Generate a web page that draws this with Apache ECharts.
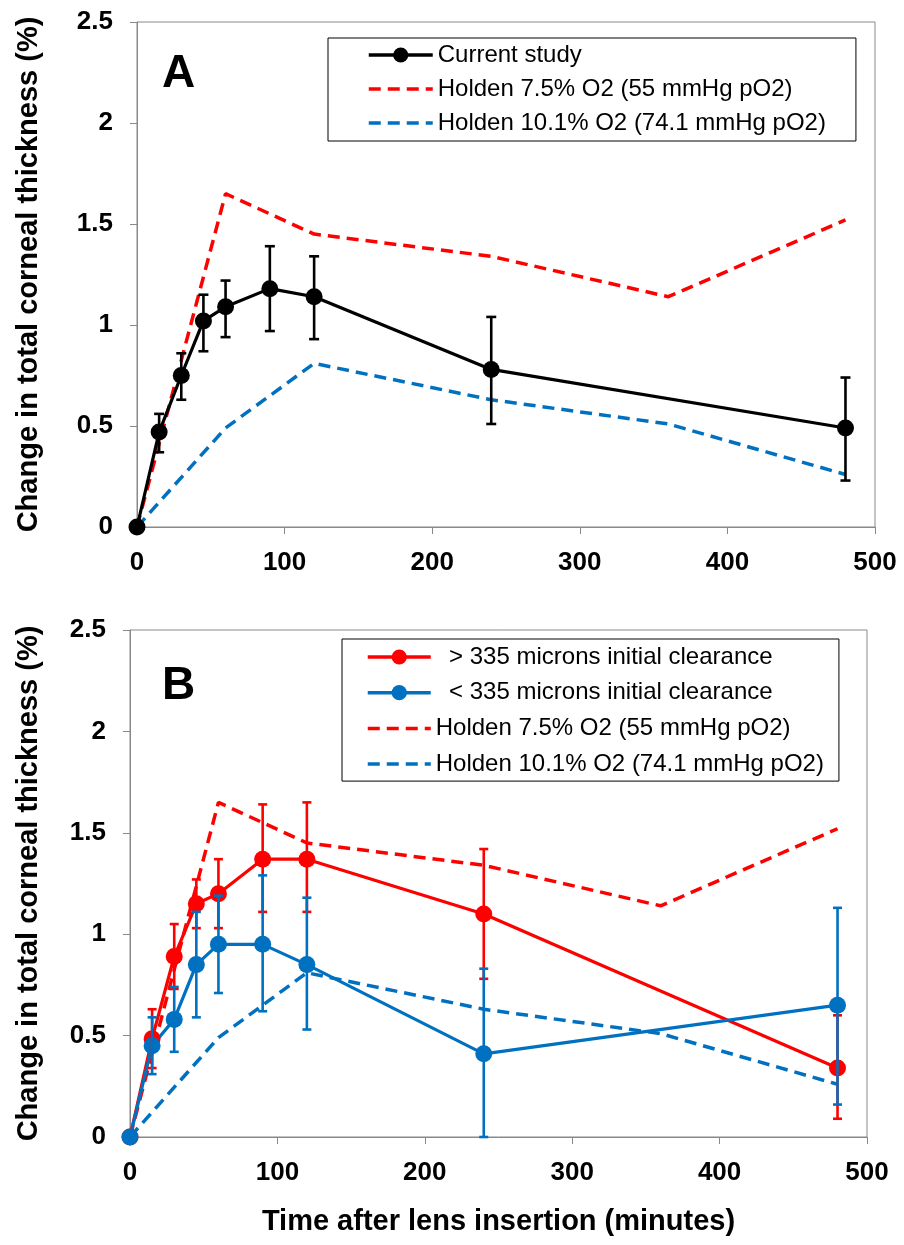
<!DOCTYPE html>
<html>
<head>
<meta charset="utf-8">
<script src="https://cdn.jsdelivr.net/npm/echarts@6/dist/echarts.min.js"></script>
<style>
  html, body { margin: 0; padding: 0; background: #fff; }
  #chart { width: 904px; height: 1245px; }
</style>
</head>
<body>
<div id="chart"></div>
<script>
// time points (minutes)
var times = [0, 15, 30, 45, 60, 90, 120, 240, 480];
var holdenTimes = [0, 60, 120, 240, 360, 480];

// Panel A - current study
var currentMean = [0, 0.47, 0.75, 1.02, 1.09, 1.18, 1.14, 0.78, 0.49];
var currentLow  = [0, 0.37, 0.63, 0.87, 0.94, 0.97, 0.93, 0.51, 0.23];
var currentHigh = [0, 0.56, 0.86, 1.15, 1.22, 1.39, 1.34, 1.04, 0.74];

// Holden curves (same on both panels)
var holden75  = [0, 1.65, 1.45, 1.34, 1.14, 1.52];
var holden101 = [0, 0.49, 0.81, 0.63, 0.51, 0.26];

// Panel B - clearance groups
var bigMean = [0, 0.485, 0.89, 1.15, 1.20, 1.37, 1.37, 1.10, 0.34];
var bigLow  = [0, 0.34, 0.73, 1.03, 1.03, 1.11, 1.11, 0.78, 0.09];
var bigHigh = [0, 0.63, 1.05, 1.27, 1.37, 1.64, 1.65, 1.42, 0.60];
var smallMean = [0, 0.45, 0.58, 0.85, 0.95, 0.95, 0.85, 0.41, 0.65];
var smallLow  = [0, 0.31, 0.42, 0.59, 0.71, 0.62, 0.53, 0.00, 0.16];
var smallHigh = [0, 0.59, 0.74, 1.11, 1.19, 1.29, 1.18, 0.83, 1.13];

var nameCurrent = 'Current study';
var nameH75 = 'Holden 7.5% O2 (55 mmHg pO2)';
var nameH101 = 'Holden 10.1% O2 (74.1 mmHg pO2)';
var nameBig = '  > 335 microns initial clearance';
var nameSmall = '  < 335 microns initial clearance';

var RED = '#ff0000', BLUE = '#0070c0', GRID = '#898989';
var FONT = '"Liberation Sans", Arial, sans-serif';

function pairs(xs, ys) {
  return xs.map(function (x, i) { return [x, ys[i]]; });
}
function errData(xs, lo, hi) {
  var out = [];
  xs.forEach(function (x, i) { if (hi[i] > lo[i]) out.push([x, lo[i], hi[i]]); });
  return out;
}
function errRender(color, cap) {
  return function (params, api) {
    var x = api.value(0);
    var p1 = api.coord([x, api.value(1)]);
    var p2 = api.coord([x, api.value(2)]);
    var st = { stroke: color, lineWidth: 2.6 };
    return {
      type: 'group',
      children: [
        { type: 'line', shape: { x1: p1[0], y1: p1[1], x2: p2[0], y2: p2[1] }, style: st },
        { type: 'line', shape: { x1: p1[0] - cap, y1: p1[1], x2: p1[0] + cap, y2: p1[1] }, style: st },
        { type: 'line', shape: { x1: p2[0] - cap, y1: p2[1], x2: p2[0] + cap, y2: p2[1] }, style: st }
      ]
    };
  };
}

function xAxisCfg(gi, withName) {
  var a = {
    gridIndex: gi, type: 'value', min: 0, max: 500, interval: 100,
    axisLine: { lineStyle: { color: GRID, width: 1 } },
    axisTick: { show: true, length: 7, lineStyle: { color: GRID } },
    splitLine: { show: false },
    axisLabel: { color: '#000', fontSize: 26, fontWeight: 'bold', fontFamily: FONT, margin: 23 }
  };
  if (withName) {
    a.name = 'Time after lens insertion (minutes)';
    a.nameLocation = 'middle';
    a.nameGap = 70;
    a.nameTextStyle = { color: '#000', fontSize: 29, fontWeight: 'bold', fontFamily: FONT };
  }
  return a;
}
function yAxisCfg(gi, gap) {
  return {
    gridIndex: gi, type: 'value', min: 0, max: 2.5, interval: 0.5,
    name: 'Change in total corneal thickness (%)',
    nameLocation: 'middle', nameGap: gap,
    nameTextStyle: { color: '#000', fontSize: 29, fontWeight: 'bold', fontFamily: FONT },
    axisLine: { show: true, lineStyle: { color: GRID, width: 1 } },
    axisTick: { show: true, length: 7, lineStyle: { color: GRID } },
    splitLine: { show: false },
    axisLabel: { color: '#000', fontSize: 26, fontWeight: 'bold', fontFamily: FONT, margin: 24 }
  };
}

function dashed(name, color, ys, gi) {
  return {
    name: name, type: 'line', xAxisIndex: gi, yAxisIndex: gi,
    data: pairs(holdenTimes, ys), symbol: 'none',
    lineStyle: { color: color, width: 3.5, type: [12, 7] },
    itemStyle: { color: color }, z: 3
  };
}
function solid(name, color, ys, gi) {
  return {
    name: name, type: 'line', xAxisIndex: gi, yAxisIndex: gi,
    data: pairs(times, ys), symbol: 'circle', symbolSize: 17,
    lineStyle: { color: color, width: 3.2 },
    itemStyle: { color: color }, z: 4
  };
}
function errs(color, lo, hi, gi, cap) {
  return {
    type: 'custom', xAxisIndex: gi, yAxisIndex: gi,
    data: errData(times, lo, hi), renderItem: errRender(color, cap), z: 5, silent: true
  };
}
// legend entries for dashed lines: no dot
function plain(name) {
  return { name: name, itemStyle: { opacity: 0 } };
}

var chart = echarts.init(document.getElementById('chart'));
chart.setOption({
  animation: false,
  backgroundColor: '#fff',
  textStyle: { fontFamily: FONT },
  grid: [
    { left: 137, top: 22, width: 738, height: 505, show: true, borderColor: GRID, borderWidth: 1 },
    { left: 130, top: 630, width: 737, height: 507, show: true, borderColor: GRID, borderWidth: 1 }
  ],
  xAxis: [xAxisCfg(0, false), xAxisCfg(1, true)],
  yAxis: [yAxisCfg(0, 94), yAxisCfg(1, 87)],
  legend: [
    {
      orient: 'vertical', left: 328, top: 38,
      data: [nameCurrent, plain(nameH75), plain(nameH101)],
      itemWidth: 64, itemHeight: 19, itemGap: 10,
      padding: [5, 30, 6, 39],
      borderColor: '#000', borderWidth: 1,
      lineStyle: { width: 3.5 },
      textStyle: { color: '#000', fontSize: 24, fontFamily: FONT }
    },
    {
      orient: 'vertical', left: 342, top: 639,
      data: [nameBig, nameSmall, plain(nameH75), plain(nameH101)],
      itemWidth: 63, itemHeight: 19, itemGap: 11.7,
      padding: [6, 15, 5, 24],
      borderColor: '#000', borderWidth: 1,
      lineStyle: { width: 3.5 },
      textStyle: { color: '#000', fontSize: 24, fontFamily: FONT }
    }
  ],
  graphic: [
    { type: 'text', left: 162, top: 51, style: { text: 'A', font: 'bold 46px ' + FONT, fill: '#000' } },
    { type: 'text', left: 162, top: 663, style: { text: 'B', font: 'bold 46px ' + FONT, fill: '#000' } }
  ],
  series: [
    dashed(nameH75, RED, holden75, 0),
    dashed(nameH101, BLUE, holden101, 0),
    errs('#000', currentLow, currentHigh, 0, 5),
    solid(nameCurrent, '#000', currentMean, 0),

    dashed(nameH75, RED, holden75, 1),
    dashed(nameH101, BLUE, holden101, 1),
    errs(RED, bigLow, bigHigh, 1, 4.5),
    solid(nameBig, RED, bigMean, 1),
    errs(BLUE, smallLow, smallHigh, 1, 4.5),
    solid(nameSmall, BLUE, smallMean, 1)
  ]
});
</script>
</body>
</html>
